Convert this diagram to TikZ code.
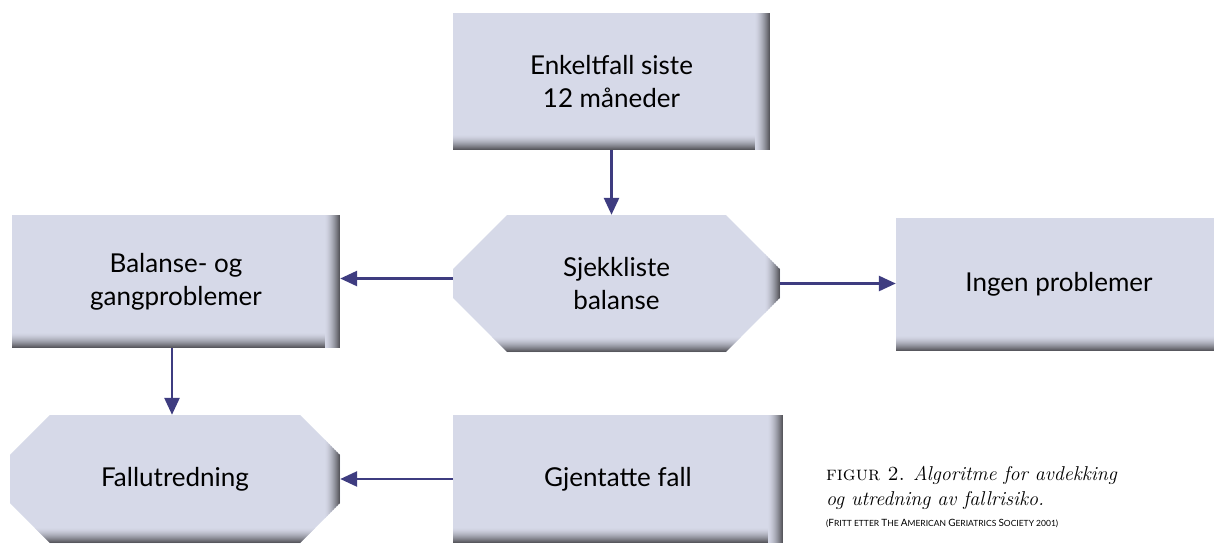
\documentclass[tikz,border=0pt]{standalone}
\usepackage{fontspec}
\newfontfamily\boxfont{Lato}
\usetikzlibrary{shapes.misc,arrows.meta}
\definecolor{boxfill}{RGB}{214,217,232}
\definecolor{bevel}{RGB}{88,88,94}
\definecolor{arrowc}{RGB}{62,60,128}
\newcommand\bevelbottom{%
  \foreach \i in {1,...,15}{%
    \pgfmathsetmacro\p{100*(\i/15)^1.6}%
    \fill[bevel!\p!boxfill] ([yshift={(16-\i)*1pt}]path picture bounding box.south west) rectangle ([yshift={(15-\i)*1pt}]path picture bounding box.south east);
  }}
\newcommand\bevelright{%
  \foreach \i in {1,...,15}{%
    \pgfmathsetmacro\p{100*(\i/15)^1.6}%
    \fill[bevel!\p!boxfill] ([xshift={-(16-\i)*1pt}]path picture bounding box.north east) rectangle ([xshift={-(15-\i)*1pt}]path picture bounding box.south east);
  }}
\begin{document}
\begin{tikzpicture}[x=1pt,y=-1pt,
  bevelpic/.style={path picture={\bevelbottom\bevelright}},
  bevelbot/.style={path picture={\bevelbottom}},
  boxbase/.style={fill=boxfill, inner sep=0pt, align=center,
    font=\boxfont\fontsize{26}{33}\selectfont},
  box/.style={boxbase, rectangle, bevelpic},
  chbox/.style={boxbase, chamfered rectangle, chamfered rectangle xsep=30pt,
    chamfered rectangle ysep=28pt, bevelpic},
  arr/.style={draw=arrowc, line width=2.7pt, -{Triangle[length=17pt,width=15pt]}}
]
\clip (0,0) rectangle (1214,544);
\fill[white] (0,0) rectangle (1214,544);

\node[box, minimum width=317pt, minimum height=137pt] (top) at (611.5,81.5) {Enkeltfall siste\\12 måneder};
\node[chbox, minimum width=327pt, minimum height=137pt] (sjekk) at (616.5,283.5) {Sjekkliste\\balanse};
\node[boxbase, rectangle, bevelbot, minimum width=326pt, minimum height=133pt] (ingen) at (1059,284.5) {Ingen problemer};
\node[box, minimum width=328pt, minimum height=133pt] (balanse) at (176,281.5) {Balanse- og\\gangproblemer};
\node[chbox, minimum width=330pt, minimum height=128pt] (fall) at (175,479) {Fallutredning};
\node[box, minimum width=330pt, minimum height=128pt] (gjent) at (618,479) {Gjentatte fall};

\coordinate (l1) at ([yshift=5pt]sjekk.west);
\coordinate (d1) at ([xshift=-4pt]balanse.south);
\draw[arr] (top.south) -- (top.south |- sjekk.north);
\draw[arr] (l1) -- (l1 -| balanse.east);
\draw[arr] (sjekk.east) -- (sjekk.east -| ingen.west);
\draw[arr] (d1) -- (d1 |- fall.north);
\draw[arr] (gjent.west) -- (gjent.west -| fall.east);

\node[anchor=north west, align=left, inner sep=0pt,
  font=\fontsize{20}{25}\selectfont] (cap) at (826,466)
  {\textsc{figur 2.} \textit{Algoritme for avdekking}\\
   \textit{og utredning av fallrisiko.}\\[-4pt]
   {\boxfont\fontsize{8.5}{10}\selectfont ({\fontsize{10}{10}\selectfont F}RITT ETTER {\fontsize{10}{10}\selectfont T}HE {\fontsize{10}{10}\selectfont A}MERICAN {\fontsize{10}{10}\selectfont G}ERIATRICS {\fontsize{10}{10}\selectfont S}OCIETY 2001)}};
\end{tikzpicture}
\end{document}
